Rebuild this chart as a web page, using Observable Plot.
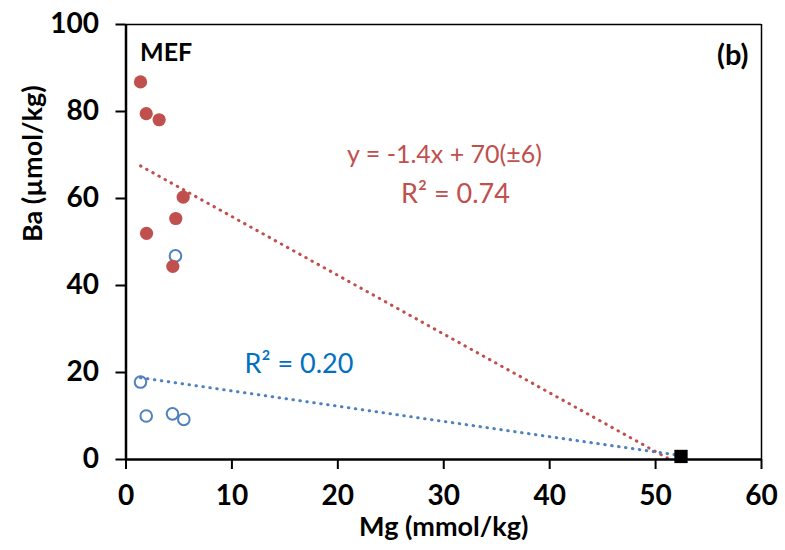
<!DOCTYPE html>
<html>
<head>
<meta charset="utf-8">
<script src="https://cdn.jsdelivr.net/npm/d3@7"></script>
<script src="https://cdn.jsdelivr.net/npm/@observablehq/plot@0.6"></script>
<style>
  html, body { margin: 0; padding: 0; background: #fff; }
  #chart svg { display: block; }
</style>
</head>
<body>
<div id="chart"></div>
<script>
// MEF samples, filled red (Ba vs Mg)
const mgRed = [1.37, 1.91, 3.13, 5.40, 4.70, 1.94, 4.42];
const baRed = [86.8, 79.5, 78.1, 60.3, 55.4, 52.0, 44.4];
// open blue samples
const mgBlue = [4.67, 1.37, 1.91, 4.39, 5.46];
const baBlue = [46.8, 17.8, 10.0, 10.5, 9.2];
// end member (black square)
const mgEnd = [52.4];
const baEnd = [0.7];
// trend lines (end points)
const redTrendMg = [1.37, 51.2];
const redTrendBa = [67.5, 0.2];
const blueTrendMg = [1.37, 52.4];
const blueTrendBa = [18.8, 0.9];
// ticks
const xTicks = [0, 10, 20, 30, 40, 50, 60];
const yTicks = [0, 20, 40, 60, 80, 100];

const red = "#C0504D";
const blue = "#4F81BD";
const blueText = "#0070C0";
const font = "Lato, 'Open Sans', sans-serif";

const redPts = mgRed.map((x, i) => ({x, y: baRed[i]}));
const bluePts = mgBlue.map((x, i) => ({x, y: baBlue[i]}));
const endPts = mgEnd.map((x, i) => ({x, y: baEnd[i]}));
const redLine = redTrendMg.map((x, i) => ({x, y: redTrendBa[i]}));
const blueLine = blueTrendMg.map((x, i) => ({x, y: blueTrendBa[i]}));

const chart = Plot.plot({
  width: 785,
  height: 550,
  marginLeft: 125.5,
  marginRight: 24,
  marginTop: 24,
  marginBottom: 91,
  style: {fontFamily: font, background: "#fff"},
  x: {domain: [0, 60]},
  y: {domain: [0, 100]},
  marks: [
    // frame top / right
    Plot.ruleY([100], {stroke: "#000", strokeWidth: 1.5}),
    Plot.ruleX([60], {stroke: "#000", strokeWidth: 1.5}),
    // trend lines
    Plot.line(redLine, {x: "x", y: "y", stroke: red, strokeWidth: 3, strokeDasharray: "0.5,6.5", strokeLinecap: "round"}),
    Plot.line(blueLine, {x: "x", y: "y", stroke: blue, strokeWidth: 3, strokeDasharray: "0.5,6.5", strokeLinecap: "round"}),
    // points
    Plot.dot(bluePts, {x: "x", y: "y", r: 5.8, stroke: blue, strokeWidth: 2, fill: "none"}),
    Plot.dot(redPts, {x: "x", y: "y", r: 6.6, fill: red, stroke: "none"}),
    Plot.dot(endPts, {x: "x", y: "y", symbol: "square", r: 7.5, fill: "#000"}),
    // axes
    Plot.axisX({ticks: xTicks, tickSize: 10, tickPadding: 16, fontSize: 28, fontWeight: "bold", strokeWidth: 2, label: null, tickFormat: d => String(d)}),
    Plot.axisY({ticks: yTicks, tickSize: 10, tickPadding: 17, fontSize: 28, fontWeight: "bold", strokeWidth: 2, label: null, tickFormat: d => String(d)}),
    Plot.ruleX([0], {stroke: "#000", strokeWidth: 2.5}),
    Plot.ruleY([0], {stroke: "#000", strokeWidth: 2.5}),
    // axis titles
    Plot.text(["Mg (mmol/kg)"], {frameAnchor: "bottom", dy: 68, fontSize: 27, fontWeight: "bold", fill: "#000", lineAnchor: "middle"}),
    Plot.text(["Ba (µmol/kg)"], {frameAnchor: "left", dx: -93, rotate: -90, fontSize: 27, fontWeight: "bold", fill: "#000", lineAnchor: "middle"}),
    // annotations
    Plot.text(["MEF"], {frameAnchor: "top-left", dx: 14, dy: 28, fontSize: 25, fontWeight: "bold", fill: "#000", textAnchor: "start", lineAnchor: "middle"}),
    Plot.text(["(b)"], {frameAnchor: "top-right", dx: -13, dy: 31, fontSize: 29, fontWeight: "bold", fill: "#000", textAnchor: "end", lineAnchor: "middle"}),
    Plot.text(["y = -1.4x + 70(±6)"], {frameAnchor: "top-left", dx: 318.5, dy: 130, fontSize: 25, fill: red, textAnchor: "middle", lineAnchor: "middle"}),
    Plot.text(["R² = 0.74"], {frameAnchor: "top-left", dx: 329.5, dy: 170, fontSize: 27, fill: red, textAnchor: "middle", lineAnchor: "middle"}),
    Plot.text(["R² = 0.20"], {frameAnchor: "top-left", dx: 173, dy: 340, fontSize: 27, fill: blueText, textAnchor: "middle", lineAnchor: "middle"})
  ]
});
document.getElementById("chart").appendChild(chart);
</script>
</body>
</html>
